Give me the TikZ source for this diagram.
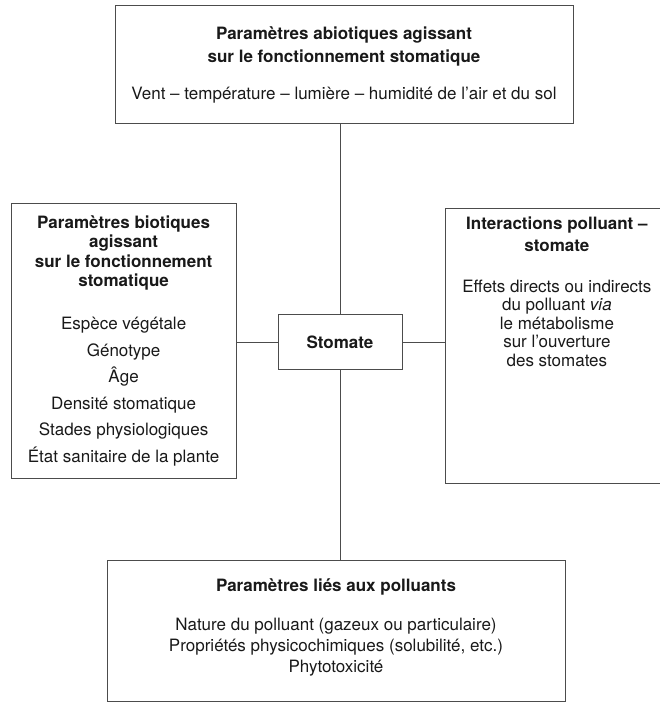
\documentclass[tikz,border=0pt]{standalone}
\usepackage{fontspec}
\setmainfont{TeX Gyre Heros}
\usetikzlibrary{positioning}

\begin{document}
\begin{tikzpicture}[
  x=1pt, y=-1pt,
  every node/.style={font=\fontsize{17}{19.5}\selectfont, text=black!90},
  box/.style={draw=black!70, line width=0.9pt, align=center, inner sep=0pt},
  link/.style={draw=black!70, line width=0.9pt},
]
\useasboundingbox (0,0) rectangle (660,704);
\node[box, minimum width=124pt, minimum height=55pt, font=\fontsize{17}{19.5}\selectfont\bfseries] (stomate) at (340,342) {Stomate};
\node[box, minimum width=458pt, minimum height=118pt, above=190pt of stomate, xshift=4pt] (abio)
  {\textbf{Paramètres abiotiques agissant}\\[4pt]\textbf{sur le fonctionnement stomatique}\\[17pt]
   Vent -- température -- lumière -- humidité de l'air et du sol\\[-16pt]};
\node[box, minimum width=225pt, minimum height=275pt, left=41pt of stomate, yshift=1.5pt] (bio)
  {\textbf{Paramètres biotiques}\\\textbf{agissant}\\\textbf{sur le fonctionnement}\\\textbf{stomatique}\\[23.5pt]
   Espèce végétale\\[7pt]Génotype\\[7pt]Âge\\[7pt]Densité stomatique\\[7pt]Stades physiologiques\\[7pt]État sanitaire de la plante\\[-16pt]};
\node[box, minimum width=222pt, minimum height=275pt, right=43pt of stomate, yshift=-3.5pt] (inter) {};
\node[align=center, inner sep=0pt, below=9pt of inter.north, font=\fontsize{17}{18.5}\selectfont] (intertxt)
  {\textbf{Interactions polluant --}\\[3.5pt]\textbf{stomate}\\[22.5pt]
   Effets directs ou indirects\\du polluant \textit{via}\\le métabolisme\\sur l'ouverture\\des stomates};
\node[box, minimum width=458pt, minimum height=141pt, below=190pt of stomate, xshift=-4pt] (poll)
  {\textbf{Paramètres liés aux polluants}\\[19.5pt]
   Nature du polluant (gazeux ou particulaire)\\[1.5pt]Propriétés physicochimiques (solubilité, etc.)\\[1.5pt]Phytotoxicité\\[-8pt]};
\draw[link] (stomate) -- (stomate |- abio.south);
\draw[link] (stomate) -- (stomate -| bio.east);
\draw[link] (stomate) -- (stomate -| inter.west);
\draw[link] (stomate) -- (stomate |- poll.north);
\end{tikzpicture}
\end{document}
